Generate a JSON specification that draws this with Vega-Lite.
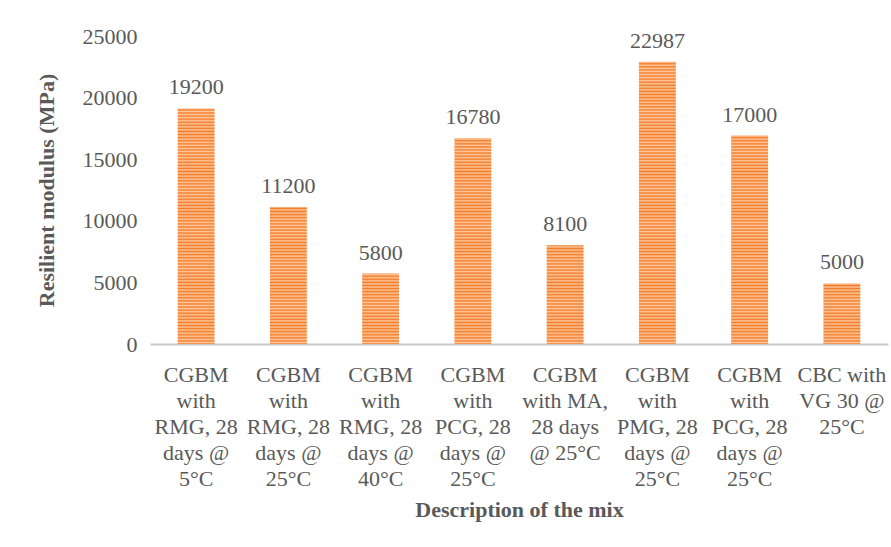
{
  "$schema": "https://vega.github.io/schema/vega-lite/v6.json",
  "width": 738,
  "height": 308,
  "autosize": "none",
  "padding": {"left": 150, "top": 36, "right": 3, "bottom": 203},
  "background": "white",
  "config": {
    "view": {"stroke": null},
    "font": "Liberation Serif",
    "axisY": {
      "domain": false,
      "ticks": false,
      "grid": false,
      "labelFontSize": 22,
      "labelColor": "#595959",
      "labelPadding": 13,
      "titleFontSize": 22,
      "titleFontWeight": "bold",
      "titleColor": "#595959",
      "titlePadding": 24
    }
  },
  "data": {
    "values": [
      {"mix": "CGBM|with|RMG, 28|days @|5°C", "modulus": 19200},
      {"mix": "CGBM|with|RMG, 28|days @|25°C", "modulus": 11200},
      {"mix": "CGBM|with|RMG, 28|days @|40°C", "modulus": 5800},
      {"mix": "CGBM|with|PCG, 28|days @|25°C", "modulus": 16780},
      {"mix": "CGBM|with MA,|28 days|@ 25°C", "modulus": 8100},
      {"mix": "CGBM|with|PMG, 28|days @|25°C", "modulus": 22987},
      {"mix": "CGBM|with|PCG, 28|days @|25°C ", "modulus": 17000},
      {"mix": "CBC with|VG 30 @|25°C", "modulus": 5000}
    ]
  },
  "encoding": {
    "x": {
      "field": "mix",
      "type": "nominal",
      "sort": null,
      "scale": {"paddingInner": 0.6, "paddingOuter": 0.3},
      "axis": {
        "title": "Description of the mix",
        "labelAngle": 0,
        "labelExpr": "split(datum.value, '|')",
        "labelFontSize": 22,
        "labelLineHeight": 26,
        "labelColor": "#595959",
        "labelPadding": 20,
        "labelLimit": 200,
        "domainColor": "#c9c9c9",
        "domainWidth": 2,
        "ticks": false,
        "titleFontSize": 22,
        "titleFontWeight": "bold",
        "titleColor": "#595959",
        "titlePadding": 10
      }
    }
  },
  "layer": [
    {
      "description": "Full-height striped fill; the white layer above trims each bar to its value",
      "mark": {
        "type": "bar",
        "fill": {
          "gradient": "linear",
          "x1": 0, "y1": 0, "x2": 0, "y2": 1,
          "stops": [
            {"offset": 0, "color": "#f47b26"}, {"offset": 0.005, "color": "#fcc8a0"},
            {"offset": 0.01, "color": "#f47b26"}, {"offset": 0.015, "color": "#fcc8a0"},
            {"offset": 0.02, "color": "#f47b26"}, {"offset": 0.025, "color": "#fcc8a0"},
            {"offset": 0.03, "color": "#f47b26"}, {"offset": 0.035, "color": "#fcc8a0"},
            {"offset": 0.04, "color": "#f47b26"}, {"offset": 0.045, "color": "#fcc8a0"},
            {"offset": 0.05, "color": "#f47b26"}, {"offset": 0.055, "color": "#fcc8a0"},
            {"offset": 0.06, "color": "#f47b26"}, {"offset": 0.065, "color": "#fcc8a0"},
            {"offset": 0.07, "color": "#f47b26"}, {"offset": 0.075, "color": "#fcc8a0"},
            {"offset": 0.08, "color": "#f47b26"}, {"offset": 0.085, "color": "#fcc8a0"},
            {"offset": 0.09, "color": "#f47b26"}, {"offset": 0.095, "color": "#fcc8a0"},
            {"offset": 0.1, "color": "#f47b26"}, {"offset": 0.105, "color": "#fcc8a0"},
            {"offset": 0.11, "color": "#f47b26"}, {"offset": 0.115, "color": "#fcc8a0"},
            {"offset": 0.12, "color": "#f47b26"}, {"offset": 0.125, "color": "#fcc8a0"},
            {"offset": 0.13, "color": "#f47b26"}, {"offset": 0.135, "color": "#fcc8a0"},
            {"offset": 0.14, "color": "#f47b26"}, {"offset": 0.145, "color": "#fcc8a0"},
            {"offset": 0.15, "color": "#f47b26"}, {"offset": 0.155, "color": "#fcc8a0"},
            {"offset": 0.16, "color": "#f47b26"}, {"offset": 0.165, "color": "#fcc8a0"},
            {"offset": 0.17, "color": "#f47b26"}, {"offset": 0.175, "color": "#fcc8a0"},
            {"offset": 0.18, "color": "#f47b26"}, {"offset": 0.185, "color": "#fcc8a0"},
            {"offset": 0.19, "color": "#f47b26"}, {"offset": 0.195, "color": "#fcc8a0"},
            {"offset": 0.2, "color": "#f47b26"}, {"offset": 0.205, "color": "#fcc8a0"},
            {"offset": 0.21, "color": "#f47b26"}, {"offset": 0.215, "color": "#fcc8a0"},
            {"offset": 0.22, "color": "#f47b26"}, {"offset": 0.225, "color": "#fcc8a0"},
            {"offset": 0.23, "color": "#f47b26"}, {"offset": 0.235, "color": "#fcc8a0"},
            {"offset": 0.24, "color": "#f47b26"}, {"offset": 0.245, "color": "#fcc8a0"},
            {"offset": 0.25, "color": "#f47b26"}, {"offset": 0.255, "color": "#fcc8a0"},
            {"offset": 0.26, "color": "#f47b26"}, {"offset": 0.265, "color": "#fcc8a0"},
            {"offset": 0.27, "color": "#f47b26"}, {"offset": 0.275, "color": "#fcc8a0"},
            {"offset": 0.28, "color": "#f47b26"}, {"offset": 0.285, "color": "#fcc8a0"},
            {"offset": 0.29, "color": "#f47b26"}, {"offset": 0.295, "color": "#fcc8a0"},
            {"offset": 0.3, "color": "#f47b26"}, {"offset": 0.305, "color": "#fcc8a0"},
            {"offset": 0.31, "color": "#f47b26"}, {"offset": 0.315, "color": "#fcc8a0"},
            {"offset": 0.32, "color": "#f47b26"}, {"offset": 0.325, "color": "#fcc8a0"},
            {"offset": 0.33, "color": "#f47b26"}, {"offset": 0.335, "color": "#fcc8a0"},
            {"offset": 0.34, "color": "#f47b26"}, {"offset": 0.345, "color": "#fcc8a0"},
            {"offset": 0.35, "color": "#f47b26"}, {"offset": 0.355, "color": "#fcc8a0"},
            {"offset": 0.36, "color": "#f47b26"}, {"offset": 0.365, "color": "#fcc8a0"},
            {"offset": 0.37, "color": "#f47b26"}, {"offset": 0.375, "color": "#fcc8a0"},
            {"offset": 0.38, "color": "#f47b26"}, {"offset": 0.385, "color": "#fcc8a0"},
            {"offset": 0.39, "color": "#f47b26"}, {"offset": 0.395, "color": "#fcc8a0"},
            {"offset": 0.4, "color": "#f47b26"}, {"offset": 0.405, "color": "#fcc8a0"},
            {"offset": 0.41, "color": "#f47b26"}, {"offset": 0.415, "color": "#fcc8a0"},
            {"offset": 0.42, "color": "#f47b26"}, {"offset": 0.425, "color": "#fcc8a0"},
            {"offset": 0.43, "color": "#f47b26"}, {"offset": 0.435, "color": "#fcc8a0"},
            {"offset": 0.44, "color": "#f47b26"}, {"offset": 0.445, "color": "#fcc8a0"},
            {"offset": 0.45, "color": "#f47b26"}, {"offset": 0.455, "color": "#fcc8a0"},
            {"offset": 0.46, "color": "#f47b26"}, {"offset": 0.465, "color": "#fcc8a0"},
            {"offset": 0.47, "color": "#f47b26"}, {"offset": 0.475, "color": "#fcc8a0"},
            {"offset": 0.48, "color": "#f47b26"}, {"offset": 0.485, "color": "#fcc8a0"},
            {"offset": 0.49, "color": "#f47b26"}, {"offset": 0.495, "color": "#fcc8a0"},
            {"offset": 0.5, "color": "#f47b26"}, {"offset": 0.505, "color": "#fcc8a0"},
            {"offset": 0.51, "color": "#f47b26"}, {"offset": 0.515, "color": "#fcc8a0"},
            {"offset": 0.52, "color": "#f47b26"}, {"offset": 0.525, "color": "#fcc8a0"},
            {"offset": 0.53, "color": "#f47b26"}, {"offset": 0.535, "color": "#fcc8a0"},
            {"offset": 0.54, "color": "#f47b26"}, {"offset": 0.545, "color": "#fcc8a0"},
            {"offset": 0.55, "color": "#f47b26"}, {"offset": 0.555, "color": "#fcc8a0"},
            {"offset": 0.56, "color": "#f47b26"}, {"offset": 0.565, "color": "#fcc8a0"},
            {"offset": 0.57, "color": "#f47b26"}, {"offset": 0.575, "color": "#fcc8a0"},
            {"offset": 0.58, "color": "#f47b26"}, {"offset": 0.585, "color": "#fcc8a0"},
            {"offset": 0.59, "color": "#f47b26"}, {"offset": 0.595, "color": "#fcc8a0"},
            {"offset": 0.6, "color": "#f47b26"}, {"offset": 0.605, "color": "#fcc8a0"},
            {"offset": 0.61, "color": "#f47b26"}, {"offset": 0.615, "color": "#fcc8a0"},
            {"offset": 0.62, "color": "#f47b26"}, {"offset": 0.625, "color": "#fcc8a0"},
            {"offset": 0.63, "color": "#f47b26"}, {"offset": 0.635, "color": "#fcc8a0"},
            {"offset": 0.64, "color": "#f47b26"}, {"offset": 0.645, "color": "#fcc8a0"},
            {"offset": 0.65, "color": "#f47b26"}, {"offset": 0.655, "color": "#fcc8a0"},
            {"offset": 0.66, "color": "#f47b26"}, {"offset": 0.665, "color": "#fcc8a0"},
            {"offset": 0.67, "color": "#f47b26"}, {"offset": 0.675, "color": "#fcc8a0"},
            {"offset": 0.68, "color": "#f47b26"}, {"offset": 0.685, "color": "#fcc8a0"},
            {"offset": 0.69, "color": "#f47b26"}, {"offset": 0.695, "color": "#fcc8a0"},
            {"offset": 0.7, "color": "#f47b26"}, {"offset": 0.705, "color": "#fcc8a0"},
            {"offset": 0.71, "color": "#f47b26"}, {"offset": 0.715, "color": "#fcc8a0"},
            {"offset": 0.72, "color": "#f47b26"}, {"offset": 0.725, "color": "#fcc8a0"},
            {"offset": 0.73, "color": "#f47b26"}, {"offset": 0.735, "color": "#fcc8a0"},
            {"offset": 0.74, "color": "#f47b26"}, {"offset": 0.745, "color": "#fcc8a0"},
            {"offset": 0.75, "color": "#f47b26"}, {"offset": 0.755, "color": "#fcc8a0"},
            {"offset": 0.76, "color": "#f47b26"}, {"offset": 0.765, "color": "#fcc8a0"},
            {"offset": 0.77, "color": "#f47b26"}, {"offset": 0.775, "color": "#fcc8a0"},
            {"offset": 0.78, "color": "#f47b26"}, {"offset": 0.785, "color": "#fcc8a0"},
            {"offset": 0.79, "color": "#f47b26"}, {"offset": 0.795, "color": "#fcc8a0"},
            {"offset": 0.8, "color": "#f47b26"}, {"offset": 0.805, "color": "#fcc8a0"},
            {"offset": 0.81, "color": "#f47b26"}, {"offset": 0.815, "color": "#fcc8a0"},
            {"offset": 0.82, "color": "#f47b26"}, {"offset": 0.825, "color": "#fcc8a0"},
            {"offset": 0.83, "color": "#f47b26"}, {"offset": 0.835, "color": "#fcc8a0"},
            {"offset": 0.84, "color": "#f47b26"}, {"offset": 0.845, "color": "#fcc8a0"},
            {"offset": 0.85, "color": "#f47b26"}, {"offset": 0.855, "color": "#fcc8a0"},
            {"offset": 0.86, "color": "#f47b26"}, {"offset": 0.865, "color": "#fcc8a0"},
            {"offset": 0.87, "color": "#f47b26"}, {"offset": 0.875, "color": "#fcc8a0"},
            {"offset": 0.88, "color": "#f47b26"}, {"offset": 0.885, "color": "#fcc8a0"},
            {"offset": 0.89, "color": "#f47b26"}, {"offset": 0.895, "color": "#fcc8a0"},
            {"offset": 0.9, "color": "#f47b26"}, {"offset": 0.905, "color": "#fcc8a0"},
            {"offset": 0.91, "color": "#f47b26"}, {"offset": 0.915, "color": "#fcc8a0"},
            {"offset": 0.92, "color": "#f47b26"}, {"offset": 0.925, "color": "#fcc8a0"},
            {"offset": 0.93, "color": "#f47b26"}, {"offset": 0.935, "color": "#fcc8a0"},
            {"offset": 0.94, "color": "#f47b26"}, {"offset": 0.945, "color": "#fcc8a0"},
            {"offset": 0.95, "color": "#f47b26"}, {"offset": 0.955, "color": "#fcc8a0"},
            {"offset": 0.96, "color": "#f47b26"}, {"offset": 0.965, "color": "#fcc8a0"},
            {"offset": 0.97, "color": "#f47b26"}, {"offset": 0.975, "color": "#fcc8a0"},
            {"offset": 0.98, "color": "#f47b26"}, {"offset": 0.985, "color": "#fcc8a0"},
            {"offset": 0.99, "color": "#f47b26"}, {"offset": 0.995, "color": "#fcc8a0"},
            {"offset": 1, "color": "#f47b26"}
          ]
        }
      },
      "encoding": {
        "y": {
          "datum": 25000,
          "type": "quantitative",
          "scale": {"domain": [0, 25000], "nice": false},
          "axis": {"values": [0, 5000, 10000, 15000, 20000, 25000], "format": "d"},
          "title": "Resilient modulus (MPa)"
        },
        "y2": {"datum": 0}
      }
    },
    {
      "mark": {"type": "bar", "fill": "white", "stroke": "white", "strokeWidth": 2},
      "encoding": {
        "y": {
          "field": "modulus",
          "type": "quantitative",
          "scale": {"domain": [0, 25000], "nice": false},
          "axis": {"values": [0, 5000, 10000, 15000, 20000, 25000], "format": "d"},
          "title": "Resilient modulus (MPa)"
        },
        "y2": {"datum": 25000}
      }
    },
    {
      "mark": {"type": "text", "fontSize": 22, "color": "#595959", "baseline": "alphabetic", "dy": -13},
      "encoding": {
        "y": {
          "field": "modulus",
          "type": "quantitative",
          "scale": {"domain": [0, 25000], "nice": false},
          "axis": {"values": [0, 5000, 10000, 15000, 20000, 25000], "format": "d"},
          "title": "Resilient modulus (MPa)"
        },
        "text": {"field": "modulus", "type": "quantitative", "format": "d"}
      }
    }
  ]
}
